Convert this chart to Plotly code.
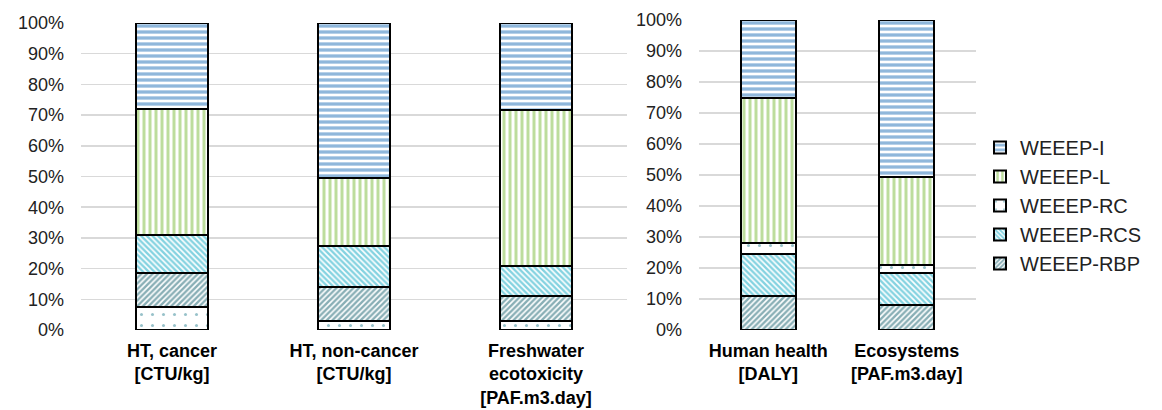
import plotly.graph_objects as go

left_cats = ["HT, cancer<br>[CTU/kg]", "HT, non-cancer<br>[CTU/kg]", "Freshwater<br>ecotoxicity<br>[PAF.m3.day]"]
right_cats = ["Human health<br>[DALY]", "Ecosystems<br>[PAF.m3.day]"]

# shares (fractions), left chart (stack order bottom->top: RC, RBP, RCS, L, I)
left_RC = [0.075, 0.03, 0.03]
left_RBP = [0.11, 0.11, 0.08]
left_RCS = [0.125, 0.135, 0.10]
left_L = [0.41, 0.22, 0.505]
left_I = [0.28, 0.505, 0.285]

# right chart (stack order bottom->top: RBP, RCS, RC, L, I)
right_RBP = [0.11, 0.08]
right_RCS = [0.135, 0.105]
right_RC = [0.035, 0.025]
right_L = [0.47, 0.285]
right_I = [0.25, 0.505]

styles = {
    "WEEEP-I": dict(shape="-", fgcolor="#1f6fb8", size=6, solidity=0.55),
    "WEEEP-L": dict(shape="|", fgcolor="#7cbb3c", size=6, solidity=0.5),
    "WEEEP-RC": dict(shape=".", fgcolor="#2f8494", size=11, solidity=0.06),
    "WEEEP-RCS": dict(shape="\\", fgcolor="#0aa6c2", size=4, solidity=0.6),
    "WEEEP-RBP": dict(shape="/", fgcolor="#125e6c", size=4, solidity=0.6),
}
rank = {"WEEEP-I": 1, "WEEEP-L": 2, "WEEEP-RC": 3, "WEEEP-RCS": 4, "WEEEP-RBP": 5}

fig = go.Figure()

def add(name, x, y, xa, ya, show):
    st = styles[name]
    fig.add_trace(go.Bar(
        name=name, x=x, y=y, xaxis=xa, yaxis=ya, showlegend=show,
        legendrank=rank[name],
        marker=dict(color="white", line=dict(color="black", width=2),
                    pattern=dict(shape=st["shape"], fgcolor=st["fgcolor"], bgcolor="white",
                                 size=st["size"], solidity=st["solidity"], fillmode="overlay")),
        hoverinfo="skip",
    ))

for nm, vals in [("WEEEP-RC", left_RC), ("WEEEP-RBP", left_RBP), ("WEEEP-RCS", left_RCS),
                 ("WEEEP-L", left_L), ("WEEEP-I", left_I)]:
    add(nm, left_cats, vals, "x", "y", False)

for nm, vals in [("WEEEP-RBP", right_RBP), ("WEEEP-RCS", right_RCS), ("WEEEP-RC", right_RC),
                 ("WEEEP-L", right_L), ("WEEEP-I", right_I)]:
    add(nm, right_cats, vals, "x2", "y2", True)

yax = dict(range=[0, 1], dtick=0.1, tickformat=".0%", showgrid=True, gridcolor="#d9d9d9",
           gridwidth=1.5, zeroline=False, showline=False, ticks="", ticklabelstandoff=16,
           automargin=False,
           tickfont=dict(family="Liberation Sans, Arial", size=18, color="#222"), fixedrange=True)
xax = dict(showline=False, ticks="", showgrid=False, automargin=False, ticklabelstandoff=8,
           fixedrange=True,
           tickfont=dict(family="Liberation Sans, Arial", size=18, color="#000", weight="bold"))

fig.update_layout(
    width=1162, height=410,
    margin=dict(l=0, r=0, t=0, b=0),
    paper_bgcolor="white", plot_bgcolor="white",
    barmode="stack", bargap=0.6,
    xaxis=dict(domain=[81/1162, 627/1162], anchor="y", **xax),
    yaxis=dict(domain=[1-330/410, 1-23/410], anchor="x", **yax),
    xaxis2=dict(domain=[699/1162, 976/1162], anchor="y2", **xax),
    yaxis2=dict(domain=[1-330/410, 1-20/410], anchor="x2", **yax),
    legend=dict(x=980/1162, y=1-128/410, xanchor="left", yanchor="top",
                traceorder="normal",
                font=dict(family="Liberation Sans, Arial", size=20, color="#222"),
                tracegroupgap=0, itemwidth=30, bgcolor="rgba(0,0,0,0)"),
)

fig.write_html("out.html", config={"displayModeBar": False, "staticPlot": True},
               post_script="document.body.style.margin='0';")
